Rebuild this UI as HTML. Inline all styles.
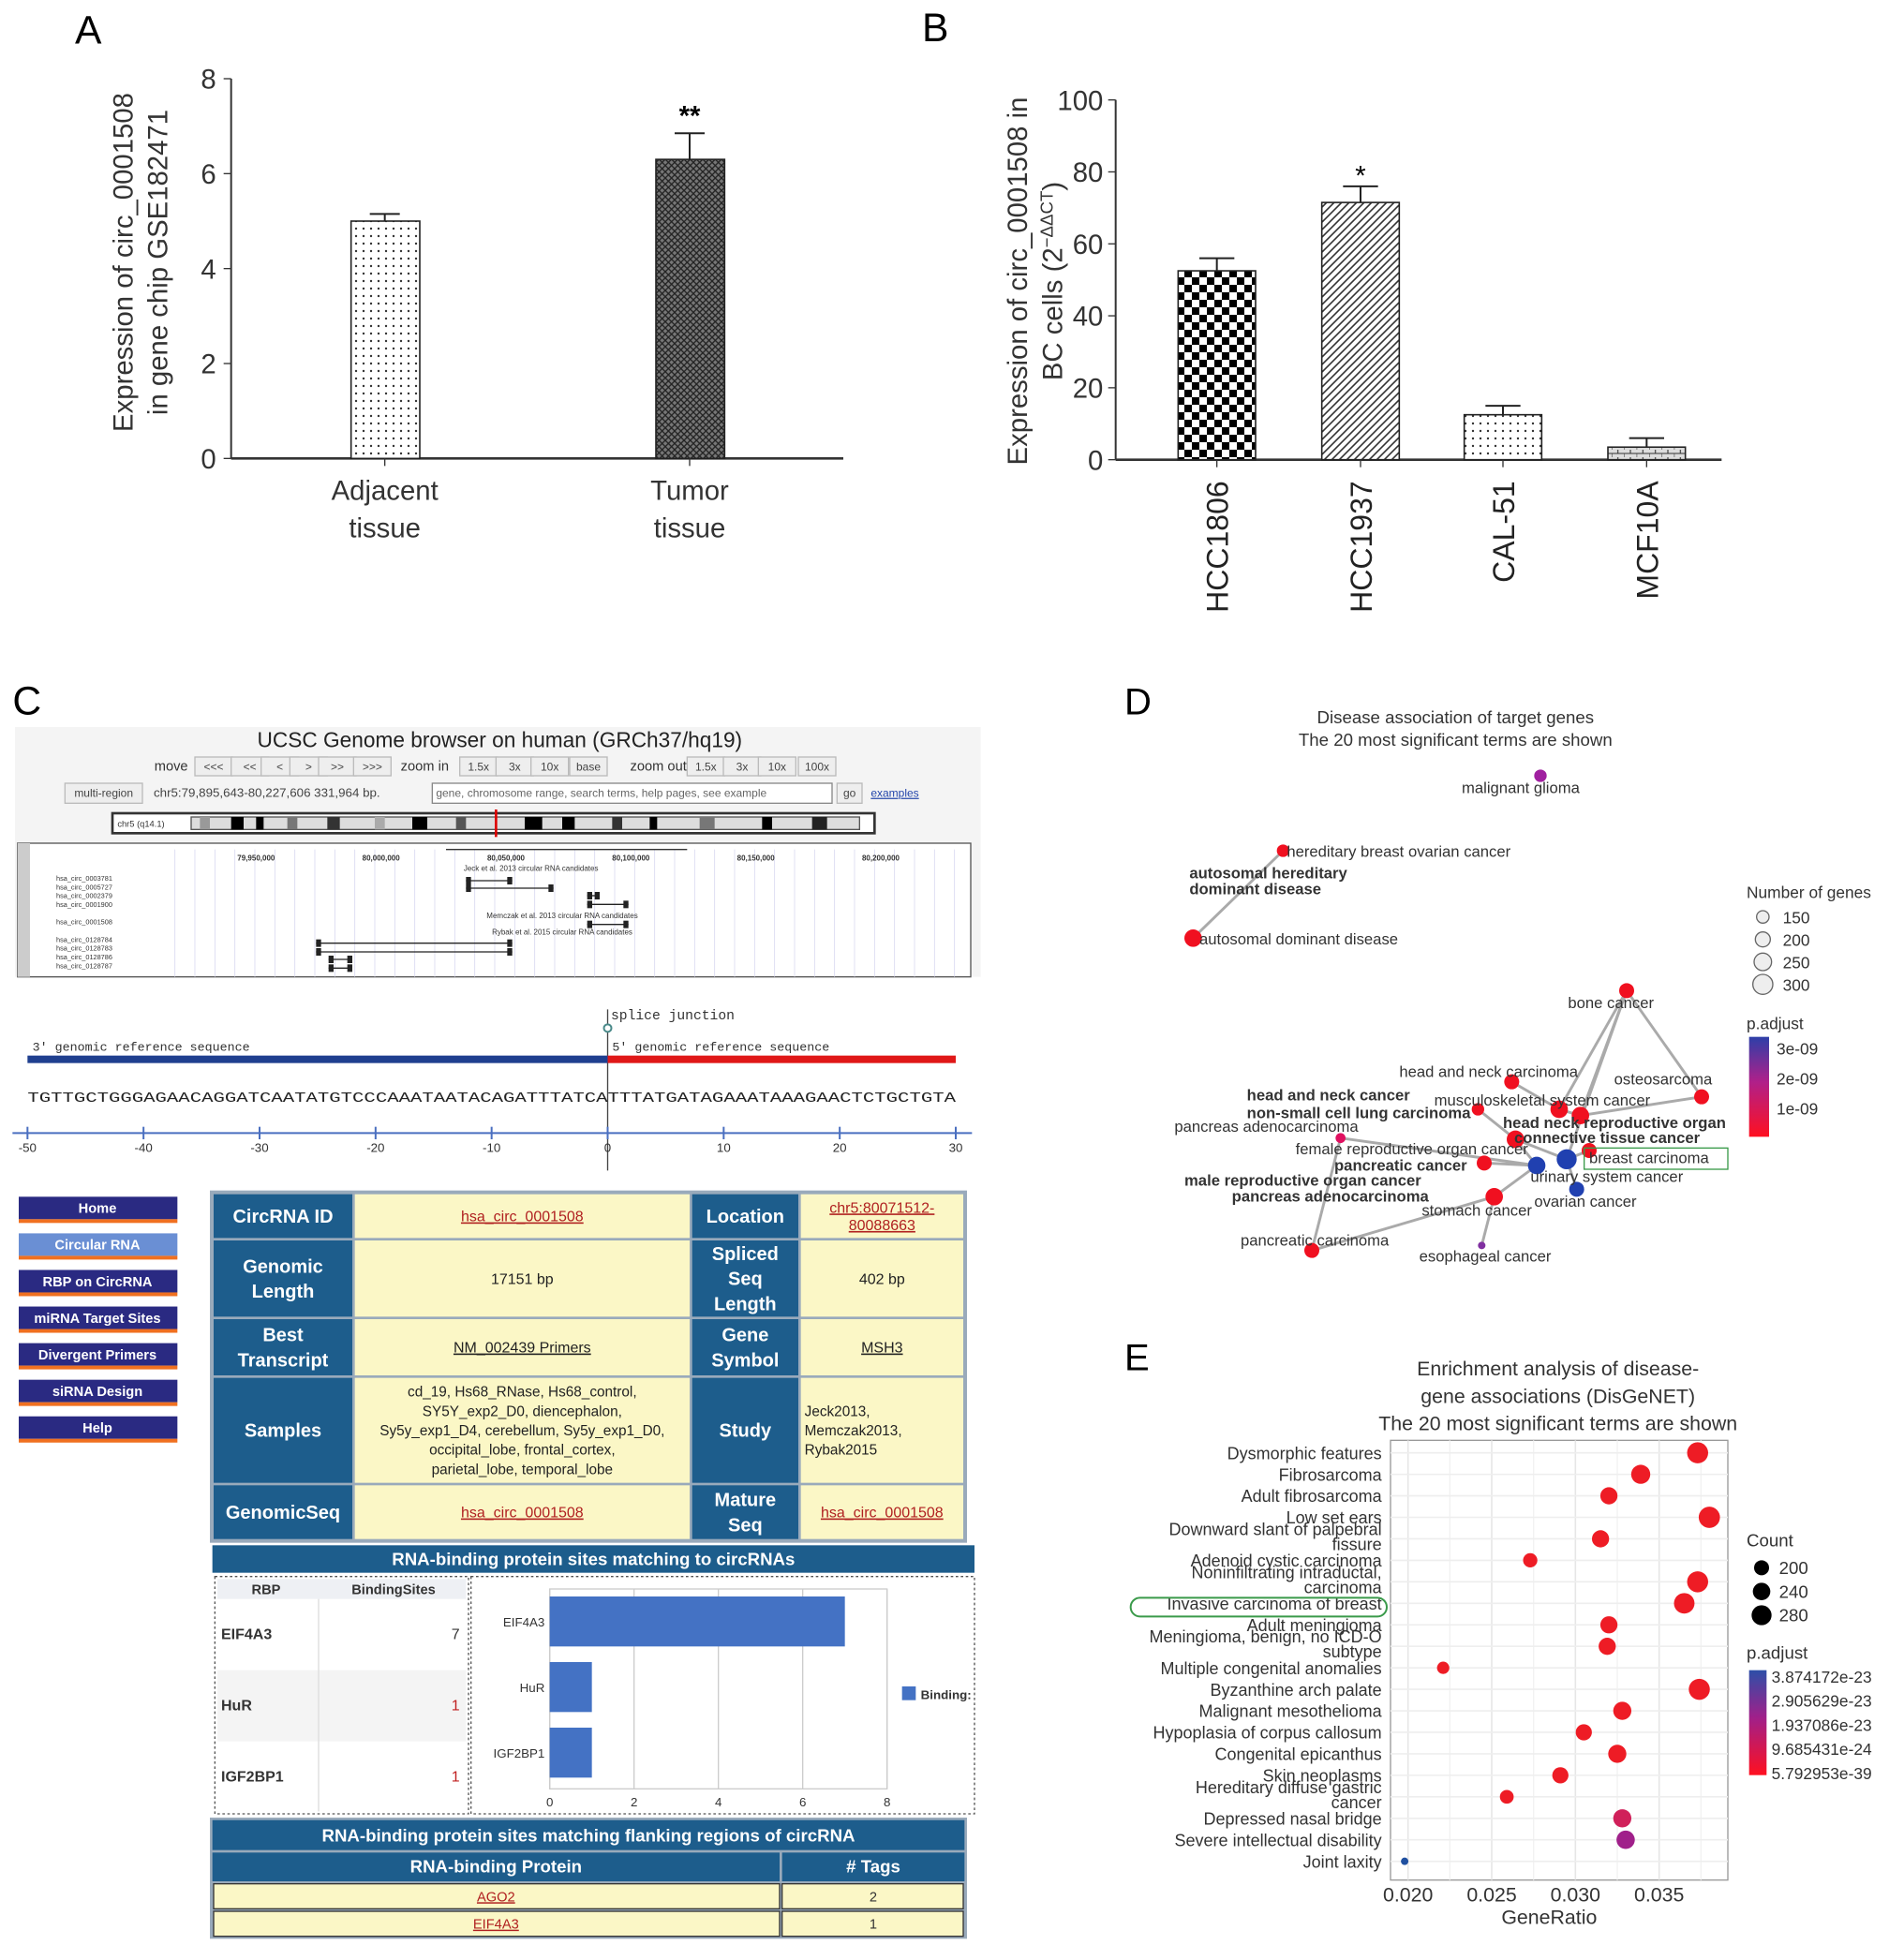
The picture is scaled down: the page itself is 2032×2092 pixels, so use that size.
<!DOCTYPE html>
<html><head><meta charset="utf-8"><style>
html,body{margin:0;padding:0;background:#fff}
svg{display:block}
text{font-family:"Liberation Sans",sans-serif}
.mono{font-family:"Liberation Mono",monospace}
</style></head><body>
<svg id="fig" xmlns="http://www.w3.org/2000/svg" width="2032" height="2092" viewBox="0 0 1524 1569">
<defs>
<pattern id="pDots" width="6" height="6" patternUnits="userSpaceOnUse"><rect width="6" height="6" fill="#fff"/><circle cx="3" cy="3" r="0.9" fill="#333"/></pattern>
<pattern id="pCross" width="5" height="5" patternUnits="userSpaceOnUse"><rect width="5" height="5" fill="#777"/><path d="M0 0L5 5M5 0L0 5" stroke="#222" stroke-width="1"/></pattern>
<pattern id="pCheck" width="12" height="12" patternUnits="userSpaceOnUse"><rect width="12" height="12" fill="#fff"/><rect width="6" height="6" fill="#000"/><rect x="6" y="6" width="6" height="6" fill="#000"/></pattern>
<pattern id="pDiag" width="6" height="6" patternUnits="userSpaceOnUse"><rect width="6" height="6" fill="#fff"/><path d="M0 6L6 0M-1 1L1 -1M5 7L7 5" stroke="#333" stroke-width="1.2"/></pattern>
<pattern id="pBrick" width="10" height="6" patternUnits="userSpaceOnUse"><rect width="10" height="6" fill="#ddd"/><path d="M0 3H10M5 0V3M0 3V6" stroke="#333" stroke-width="0.8"/></pattern>
<linearGradient id="gD" x1="0" y1="0" x2="0" y2="1"><stop offset="0" stop-color="#2d3fa8"/><stop offset="0.45" stop-color="#b0208a"/><stop offset="1" stop-color="#ff1020"/></linearGradient>
<linearGradient id="gE" x1="0" y1="0" x2="0" y2="1"><stop offset="0" stop-color="#2d4fa8"/><stop offset="0.45" stop-color="#a0208a"/><stop offset="1" stop-color="#ff1020"/></linearGradient>
</defs>
<g id="root"></g>
</svg>
<script>
// ---- Panel A data
const aCats=["Adjacent|tissue","Tumor|tissue"];
const aVals=[5.0,6.3];
const aErr=[0.15,0.55];
const aTicks=[0,2,4,6,8];
// ---- Panel B data
const bCats=["HCC1806","HCC1937","CAL-51","MCF10A"];
const bVals=[52.5,71.5,12.5,3.5];
const bErr=[3.5,4.5,2.5,2.5];
const bTicks=[0,20,40,60,80,100];
// ---- Panel C RBP chart
const rbpCats=["EIF4A3","HuR","IGF2BP1"];
const rbpVals=[7,1,1];
const rbpTicks=[0,2,4,6,8];
const splTicks=[-50,-40,-30,-20,-10,0,10,20,30];
// ---- Panel E data
const eTerms=["Dysmorphic features","Fibrosarcoma","Adult fibrosarcoma","Low set ears","Downward slant of palpebral|fissure","Adenoid cystic carcinoma","Noninfiltrating intraductal,|carcinoma","Invasive carcinoma of breast","Adult meningioma","Meningioma, benign, no ICD-O|subtype","Multiple congenital anomalies","Byzanthine arch palate","Malignant mesothelioma","Hypoplasia of corpus callosum","Congenital epicanthus","Skin neoplasms","Hereditary diffuse gastric|cancer","Depressed nasal bridge","Severe intellectual disability","Joint laxity"];
const eRatio=[0.0373,0.0339,0.0320,0.0380,0.0315,0.0273,0.0373,0.0365,0.0320,0.0319,0.0221,0.0374,0.0328,0.0305,0.0325,0.0291,0.0259,0.0328,0.0330,0.0198];
const eCount=[290,270,250,292,250,220,290,285,250,250,200,290,260,240,260,240,215,260,262,150];
const ePadj=[0.01,0.01,0.01,0.01,0.01,0.01,0.01,0.01,0.01,0.01,0.01,0.01,0.01,0.01,0.01,0.01,0.01,0.3,0.6,1.0];
const eTicks=[0.020,0.025,0.030,0.035];
// ---- Panel D network: label, x, y, r, color, labelX(start), labelY, weight
const dNodes=[
 ["malignant glioma",1233,621,5,"#a020a0",1170,635,"n"],
 ["hereditary breast ovarian cancer",1027,681,5,"#f01020",1030,686,"n"],
 ["autosomal dominant disease",955,751,7,"#f01020",960,756,"n"],
 ["bone cancer",1302,793,6,"#f01020",1255,807,"n"],
 ["osteosarcoma",1362,878,6,"#f01020",1292,868,"n"],
 ["head and neck carcinoma",1210,866,6,"#f01020",1120,862,"n"],
 ["musculoskeletal system cancer",1248,888,7,"#f01020",1148,885,"n"],
 ["head neck reproductive organ",1265,893,7,"#f01020",1203,903,"b"],
 ["pancreas adenocarcinoma",1073,911,4,"#e01060",940,906,"n"],
 ["connective tissue cancer",1213,912,7,"#f01020",1212,915,"b"],
 ["breast carcinoma",1254,928,8,"#2040b0",1272,931,"n"],
 ["",1230,933,7,"#2040b0",0,0,"n"],
 ["",1272,921,6,"#f01020",0,0,"n"],
 ["pancreatic cancer",1188,931,6,"#f01020",1068,937,"b"],
 ["stomach cancer",1196,958,7,"#f01020",1138,973,"n"],
 ["ovarian cancer",1262,952,6,"#2040b0",1228,966,"n"],
 ["pancreatic carcinoma",1050,1001,6,"#f01020",993,997,"n"],
 ["esophageal cancer",1186,997,3,"#8030a0",1136,1010,"n"],
 ["",1183,888,5,"#f01020",0,0,"n"]
];
const dEdges=[[1,2],[3,4],[3,6],[3,7],[3,10],[4,7],[8,11],[16,8],[16,14],[17,14],[5,6],[6,7],[9,10],[13,11],[14,11],[18,9],[9,11],[10,15],[12,10]];
const dExtraLabels=[["autosomal hereditary",952,703,"b"],["dominant disease",952,716,"b"],["head and neck cancer",998,881,"b"],["non-small cell lung carcinoma",998,895,"b"],["female reproductive organ cancer",1037,924,"n"],["male reproductive organ cancer",948,949,"b"],["urinary system cancer",1225,946,"n"],["pancreas adenocarcinoma",986,962,"b"]];

const NS="http://www.w3.org/2000/svg";
const root=document.getElementById('root');
function el(tag,attrs,parent,txt){const e=document.createElementNS(NS,tag);for(const k in attrs)e.setAttribute(k,attrs[k]);if(txt!==undefined)e.textContent=txt;(parent||root).appendChild(e);return e;}
function g(name){const e=el('g',{});return e;}

// ================= Panel A
(function(){
 const P=g('panel-a');
 const x0=185,x1=675,y0=367,y8=63;
 const y=v=>y0-(v/8)*(y0-y8);
 let t=el('text',{x:60,y:35,'font-size':32},P,'A');
 el('line',{x1:x0,y1:y8,x2:x0,y2:y0,stroke:'#333','stroke-width':1.5},P);
 el('line',{x1:x0,y1:y0,x2:x1,y2:y0,stroke:'#333','stroke-width':2},P);
 aTicks.forEach(v=>{el('line',{x1:x0-6,y1:y(v),x2:x0,y2:y(v),stroke:'#333'},P);const tt=el('text',{x:x0-12,y:y(v)+8,'font-size':22,'text-anchor':'end',fill:'#333'},P,String(v));});
 const cx=[308,552],fills=['url(#pDots)','url(#pCross)'];
 aVals.forEach((v,i)=>{
  const b=el('rect',{x:cx[i]-27,y:y(v),width:55,height:y0-y(v),fill:fills[i],stroke:'#222','stroke-width':1.2},P);
  
  const ye=y(v+aErr[i]);
  el('line',{x1:cx[i],y1:y(v),x2:cx[i],y2:ye,stroke:'#222','stroke-width':1.5},P);
  el('line',{x1:cx[i]-12,y1:ye,x2:cx[i]+12,y2:ye,stroke:'#222','stroke-width':1.5},P);
  el('line',{x1:cx[i],y1:y0,x2:cx[i],y2:y0+6,stroke:'#333'},P);
  aCats[i].split('|').forEach((s,k)=>{const tt=el('text',{x:cx[i],y:400+k*30,'font-size':22,'text-anchor':'middle',fill:'#333'},P,s);});
 });
 t=el('text',{x:552,y:100,'font-size':22,'text-anchor':'middle','font-weight':'bold'},P,'**');
 t=el('text',{transform:'translate(106,210) rotate(-90)','font-size':22,'text-anchor':'middle',fill:'#333'},P,'Expression of circ_0001508');
 t=el('text',{transform:'translate(134,210) rotate(-90)','font-size':22,'text-anchor':'middle',fill:'#333'},P,'in gene chip GSE182471');
})();

// ================= Panel B
(function(){
 const P=g('panel-b');
 const x0=893,x1=1378,y0=368,yT=80;
 const y=v=>y0-(v/100)*(y0-yT);
 let t=el('text',{x:738,y:33,'font-size':32},P,'B');
 el('line',{x1:x0,y1:yT,x2:x0,y2:y0,stroke:'#333','stroke-width':1.5},P);
 el('line',{x1:x0,y1:y0,x2:x1,y2:y0,stroke:'#333','stroke-width':2},P);
 bTicks.forEach(v=>{el('line',{x1:x0-6,y1:y(v),x2:x0,y2:y(v),stroke:'#333'},P);const tt=el('text',{x:x0-10,y:y(v)+8,'font-size':22,'text-anchor':'end',fill:'#333'},P,String(v));});
 const cx=[974,1089,1203,1318],fills=['url(#pCheck)','url(#pDiag)','url(#pDots)','url(#pBrick)'];
 bVals.forEach((v,i)=>{
  const b=el('rect',{x:cx[i]-31,y:y(v),width:62,height:y0-y(v),fill:fills[i],stroke:'#222','stroke-width':1.2},P);
  
  const ye=y(v+bErr[i]);
  el('line',{x1:cx[i],y1:y(v),x2:cx[i],y2:ye,stroke:'#222','stroke-width':1.5},P);
  el('line',{x1:cx[i]-14,y1:ye,x2:cx[i]+14,y2:ye,stroke:'#222','stroke-width':1.5},P);
  el('line',{x1:cx[i],y1:y0,x2:cx[i],y2:y0+6,stroke:'#333'},P);
  const tt=el('text',{transform:`translate(${cx[i]+9},385) rotate(-90)`,'font-size':24,'text-anchor':'end',fill:'#222'},P,bCats[i]);
 });
 t=el('text',{x:1089,y:148,'font-size':22,'text-anchor':'middle'},P,'*');
 t=el('text',{transform:'translate(822,225) rotate(-90)','font-size':22,'text-anchor':'middle',fill:'#333'},P,'Expression of circ_0001508 in');
 t=el('text',{transform:'translate(850,225) rotate(-90)','font-size':22,'text-anchor':'middle',fill:'#333'},P);
 el('tspan',{},t,'BC cells (2');
 el('tspan',{'baseline-shift':'super','font-size':14},t,'\u2212\u0394\u0394CT');
 el('tspan',{},t,')');
})();

// ================= Panel C
(function(){
 const P=g('panel-c');
 let t=el('text',{x:10,y:572,'font-size':32},P,'C');
 el('rect',{x:12,y:582,width:773,height:200,fill:'#f4f4f4'},P);
 t=el('text',{x:400,y:598,'font-size':17,'text-anchor':'middle',fill:'#222'},P,'UCSC Genome browser on human (GRCh37/hq19)');
 el('text',{x:137,y:617,'font-size':11,fill:'#333','text-anchor':'middle'},P,'move');
 const btns=[["<<<",171],["<<",200],["<",224],[">",247],[">>",270],[">>>",298],["1.5x",383],["3x",412],["10x",440],["base",471],["1.5x",565],["3x",594],["10x",622],["100x",654]];
 btns.forEach(b=>{const r=el('rect',{x:b[1]-15,y:606,width:30,height:15,fill:'#eee',stroke:'#bbb'},P);el('text',{x:b[1],y:617,'font-size':9,'text-anchor':'middle',fill:'#444'},P,b[0]);});
 el('text',{x:340,y:617,'font-size':11,fill:'#333','text-anchor':'middle'},P,'zoom in');
 el('text',{x:527,y:617,'font-size':11,fill:'#333','text-anchor':'middle'},P,'zoom out');
 el('rect',{x:52,y:627,width:62,height:16,fill:'#eee',stroke:'#bbb'},P);
 el('text',{x:83,y:638,'font-size':9,'text-anchor':'middle',fill:'#444'},P,'multi-region');
 el('text',{x:123,y:638,'font-size':10,fill:'#444'},P,'chr5:79,895,643-80,227,606  331,964 bp.');
 const inp=el('rect',{x:346,y:627,width:320,height:16,fill:'#fff',stroke:'#888'},P);
 el('text',{x:349,y:638,'font-size':9,fill:'#666'},P,'gene, chromosome range, search terms, help pages, see example');
 el('rect',{x:670,y:627,width:20,height:16,fill:'#eee',stroke:'#bbb'},P);
 el('text',{x:680,y:638,'font-size':9,'text-anchor':'middle',fill:'#444'},P,'go');
 el('text',{x:697,y:638,'font-size':9,fill:'#2244aa','text-decoration':'underline'},P,'examples');
 el('rect',{x:90,y:651,width:610,height:16,fill:'#fff',stroke:'#333','stroke-width':2},P);
 el('text',{x:94,y:662,'font-size':7,fill:'#333'},P,'chr5 (q14.1)');
 el('rect',{x:153,y:654,width:535,height:10,fill:'#ddd',stroke:'#555'},P);
 [[160,8,'#999'],[185,10,'#000'],[205,6,'#000'],[230,8,'#777'],[262,10,'#333'],[300,8,'#aaa'],[330,12,'#000'],[365,8,'#555'],[420,14,'#000'],[450,10,'#000'],[490,8,'#333'],[520,6,'#000'],[560,12,'#777'],[610,8,'#000'],[650,12,'#222']].forEach(s=>el('rect',{x:s[0],y:654,width:s[1],height:10,fill:s[2]},P));
 el('line',{x1:397,y1:648,x2:397,y2:670,stroke:'#d00','stroke-width':2},P);
 el('rect',{x:14,y:675,width:763,height:107,fill:'#fff',stroke:'#555'},P);
 el('rect',{x:14,y:675,width:10,height:107,fill:'#ccc'},P);
 for(let i=0;i<40;i++){el('line',{x1:140+i*16,y1:680,x2:140+i*16,y2:782,stroke:'#d8d8f0','stroke-width':0.6},P);}
 ["79,950,000","80,000,000","80,050,000","80,100,000","80,150,000","80,200,000"].forEach((s,i)=>el('text',{x:205+i*100,y:689,'font-size':6,'text-anchor':'middle',fill:'#333','font-weight':'bold'},P,s));
 el('line',{x1:357,y1:680,x2:550,y2:680,stroke:'#333'},P);
 const rl=["hsa_circ_0003781","hsa_circ_0005727","hsa_circ_0002379","hsa_circ_0001900","","hsa_circ_0001508","","hsa_circ_0128784","hsa_circ_0128783","hsa_circ_0128786","hsa_circ_0128787"];
 rl.forEach((s,i)=>{if(s)el('text',{x:45,y:705+i*7,'font-size':5.5,fill:'#333'},P,s);});
 el('text',{x:425,y:697,'font-size':6,fill:'#333','text-anchor':'middle'},P,'Jeck et al. 2013 circular RNA candidates');
 el('text',{x:450,y:735,'font-size':6,fill:'#333','text-anchor':'middle'},P,'Memczak et al. 2013 circular RNA candidates');
 el('text',{x:450,y:748,'font-size':6,fill:'#333','text-anchor':'middle'},P,'Rybak et al. 2015 circular RNA candidates');
 [[373,410,705],[373,443,711],[470,480,717],[470,503,724],[470,503,740],[253,410,755],[253,410,762],[263,282,768],[263,282,775]].forEach(l=>{el('line',{x1:l[0],y1:l[2],x2:l[1],y2:l[2],stroke:'#222'},P);el('rect',{x:l[0],y:l[2]-3,width:4,height:6,fill:'#222'},P);el('rect',{x:l[1]-4,y:l[2]-3,width:4,height:6,fill:'#222'},P);});
 const sx=v=>22+(v+50)*(765-22)/80;
 t=el('text',{x:489,y:816,'font-size':11,fill:'#333',class:'mono'},P,'splice junction');
 el('line',{x1:sx(0),y1:808,x2:sx(0),y2:937,stroke:'#444','stroke-width':1},P);
 el('circle',{cx:sx(0),cy:823,r:3,fill:'#fff',stroke:'#4a8a8a','stroke-width':1.5},P);
 el('text',{x:26,y:841,'font-size':10,fill:'#333',class:'mono'},P,"3' genomic reference sequence");
 el('text',{x:490,y:841,'font-size':10,fill:'#333',class:'mono'},P,"5' genomic reference sequence");
 let r=el('rect',{x:sx(-50),y:845,width:sx(0)-sx(-50),height:6,fill:'#1f3f8f'},P);
 r=el('rect',{x:sx(0),y:845,width:sx(30)-sx(0),height:6,fill:'#e01818'},P);
 t=el('text',{x:22,y:882,'font-size':11,fill:'#222',class:'mono',textLength:743,lengthAdjust:'spacingAndGlyphs'},P,'TGTTGCTGGGAGAACAGGATCAATATGTCCCAAATAATACAGATTTATCATTTATGATAGAAATAAAGAACTCTGCTGTA');
 el('line',{x1:10,y1:907,x2:778,y2:907,stroke:'#4a6fc0','stroke-width':1.5},P);
 splTicks.forEach(v=>{el('line',{x1:sx(v),y1:902,x2:sx(v),y2:912,stroke:'#4a6fc0','stroke-width':1.5},P);const tt=el('text',{x:sx(v),y:922,'font-size':10,'text-anchor':'middle',fill:'#333'},P,String(v));});
 ["Home","Circular RNA","RBP on CircRNA","miRNA Target Sites","Divergent Primers","siRNA Design","Help"].forEach((s,i)=>{
  const y=958+i*29.3;
  const b=el('rect',{x:15,y:y,width:127,height:18,fill:i==1?'#6a8fd4':'#2a2a82'},P);
  
  el('rect',{x:15,y:y+18,width:127,height:3,fill:'#f07020'},P);
  el('text',{x:78,y:y+13,'font-size':11,'font-weight':'bold','text-anchor':'middle',fill:'#fff'},P,s);
 });
 el('rect',{x:168,y:953,width:606,height:282,fill:'#9ab'},P);
 const cols=[[170,283],[283,553],[553,640],[640,772]];
 const rows=[[955,992],[992,1055],[1055,1102],[1102,1188],[1188,1233]];
 const cells=[
  [["CircRNA ID"],["hsa_circ_0001508","L"],["Location"],["chr5:80071512-|80088663","L"]],
  [["Genomic|Length"],["17151 bp"],["Spliced|Seq|Length"],["402 bp"]],
  [["Best|Transcript"],["NM_002439  Primers","U"],["Gene|Symbol"],["MSH3","U"]],
  [["Samples"],["cd_19, Hs68_RNase, Hs68_control,|SY5Y_exp2_D0, diencephalon,|Sy5y_exp1_D4, cerebellum, Sy5y_exp1_D0,|occipital_lobe, frontal_cortex,|parietal_lobe, temporal_lobe"],["Study"],["Jeck2013,|Memczak2013,|Rybak2015","S"]],
  [["GenomicSeq"],["hsa_circ_0001508","L"],["Mature|Seq"],["hsa_circ_0001508","L"]]];
 rows.forEach((rw,ri)=>cols.forEach((c,ci)=>{
  const hdr=ci%2==0;
  const cell=el('rect',{x:c[0]+1,y:rw[0]+1,width:c[1]-c[0]-2,height:rw[1]-rw[0]-2,fill:hdr?'#1d5d8c':'#fbf7c6'},P);
  
  const d=cells[ri][ci];const lines=d[0].split('|');const fs=hdr?15:(ri==3?11.5:12);const lh=hdr?20:(ri==3?15.5:14);
  const cy=(rw[0]+rw[1])/2-(lines.length-1)*lh/2+fs*0.35;
  lines.forEach((s,k)=>{
   const left=d[1]=='S';
   const tt=el('text',{x:left?c[0]+4:(c[0]+c[1])/2,y:cy+k*lh,'font-size':fs,'font-weight':hdr?'bold':'normal','text-anchor':left?'start':'middle',fill:hdr?'#fff':(d[1]=='L'?'#b02020':'#222'),'text-decoration':(d[1]=='L'||d[1]=='U')?'underline':'none'},P,s);
   if(d[1]=='L'||d[1]=='U'){}
  });
 }));
 el('rect',{x:170,y:1237,width:610,height:22,fill:'#1d5d8c'},P);
 el('text',{x:475,y:1253,'font-size':14,'font-weight':'bold','text-anchor':'middle',fill:'#fff'},P,'RNA-binding protein sites matching to circRNAs');
 el('rect',{x:172,y:1262,width:203,height:190,fill:'#fff',stroke:'#555','stroke-dasharray':'2,2'},P);
 el('rect',{x:174,y:1264,width:199,height:16,fill:'#eef0f4'},P);
 el('text',{x:213,y:1276,'font-size':11,'font-weight':'bold','text-anchor':'middle',fill:'#333'},P,'RBP');
 el('text',{x:315,y:1276,'font-size':11,'font-weight':'bold','text-anchor':'middle',fill:'#333'},P,'BindingSites');
 el('rect',{x:174,y:1337,width:199,height:57,fill:'#f4f4f4'},P);
 el('line',{x1:255,y1:1280,x2:255,y2:1450,stroke:'#ddd'},P);
 rbpCats.forEach((c,i)=>{const y=1312+i*57;el('text',{x:177,y:y,'font-size':12,'font-weight':'bold',fill:'#333'},P,c);const tt=el('text',{x:368,y:y,'font-size':12,'text-anchor':'end',fill:i?'#c02020':'#333'},P,String(rbpVals[i]));});
 el('rect',{x:377,y:1262,width:403,height:190,fill:'#fff',stroke:'#555','stroke-dasharray':'2,2'},P);
 const rx=v=>440+v*(710-440)/8;
 el('rect',{x:440,y:1272,width:270,height:160,fill:'#fff',stroke:'#ccc'},P);
 rbpTicks.forEach(v=>{el('line',{x1:rx(v),y1:1272,x2:rx(v),y2:1432,stroke:'#ccc'},P);const tt=el('text',{x:rx(v),y:1446,'font-size':10,'text-anchor':'middle',fill:'#333'},P,String(v));});
 rbpCats.forEach((c,i)=>{const y0=1278+i*52.5;const b=el('rect',{x:rx(0),y:y0,width:rx(rbpVals[i])-rx(0),height:40,fill:'#4472c4'},P);el('text',{x:436,y:y0+24,'font-size':10,'text-anchor':'end',fill:'#333'},P,c);});
 el('rect',{x:722,y:1350,width:11,height:11,fill:'#4472c4'},P);
 el('text',{x:737,y:1360,'font-size':10,'font-weight':'bold',fill:'#333'},P,'Binding:');
 el('rect',{x:168,y:1455,width:606,height:97,fill:'#9ab'},P);
 el('rect',{x:170,y:1457,width:602,height:24,fill:'#1d5d8c'},P);
 el('text',{x:471,y:1474,'font-size':14,'font-weight':'bold','text-anchor':'middle',fill:'#fff'},P,'RNA-binding protein sites matching flanking regions of circRNA');
 el('rect',{x:170,y:1483,width:454,height:23,fill:'#1d5d8c'},P);
 el('rect',{x:626,y:1483,width:146,height:23,fill:'#1d5d8c'},P);
 el('text',{x:397,y:1499,'font-size':14,'font-weight':'bold','text-anchor':'middle',fill:'#fff'},P,'RNA-binding Protein');
 el('text',{x:699,y:1499,'font-size':14,'font-weight':'bold','text-anchor':'middle',fill:'#fff'},P,'# Tags');
 [["AGO2","2"],["EIF4A3","1"]].forEach((rw,i)=>{const y=1508+i*22;el('rect',{x:171,y:y,width:453,height:20,fill:'#fbf7c6',stroke:'#333'},P);el('rect',{x:626,y:y,width:145,height:20,fill:'#fbf7c6',stroke:'#333'},P);const tt=el('text',{x:397,y:y+14,'font-size':11,'text-anchor':'middle',fill:'#b02020','text-decoration':'underline'},P,rw[0]);el('text',{x:699,y:y+14,'font-size':11,'text-anchor':'middle',fill:'#333'},P,rw[1]);});
})();

// ================= Panel D
(function(){
 const P=g('panel-d');
 let t=el('text',{x:900,y:572,'font-size':30},P,'D');
 el('text',{x:1165,y:579,'font-size':14,'text-anchor':'middle',fill:'#333'},P,'Disease association of target genes');
 el('text',{x:1165,y:597,'font-size':14,'text-anchor':'middle',fill:'#333'},P,'The 20 most significant terms are shown');
 dEdges.forEach(e=>{const a=dNodes[e[0]],b=dNodes[e[1]];const l=el('line',{x1:a[1],y1:a[2],x2:b[1],y2:b[2],stroke:'#aaa','stroke-width':2.2},P);});
 dNodes.forEach(n=>{const c=el('circle',{cx:n[1],cy:n[2],r:n[3],fill:n[4]},P);});
 dNodes.forEach(n=>{if(!n[0])return;const tt=el('text',{x:n[5],y:n[6],'font-size':12.5,'font-weight':n[7]=='b'?'bold':'normal',fill:'#333'},P,n[0]);});
 dExtraLabels.forEach(n=>{const tt=el('text',{x:n[1],y:n[2],'font-size':12.5,'font-weight':n[3]=='b'?'bold':'normal',fill:'#333'},P,n[0]);});
 const bx=el('rect',{x:1268,y:919,width:115,height:17,fill:'none',stroke:'#3a9a4a','stroke-width':1},P);
 el('text',{x:1398,y:719,'font-size':13,fill:'#333'},P,'Number of genes');
 [[150,5],[200,6],[250,7],[300,8]].forEach((s,i)=>{const y=734+i*18;el('circle',{cx:1411,cy:y,r:s[1],fill:'#eee',stroke:'#666'},P);el('text',{x:1427,y:y+5,'font-size':13,fill:'#333'},P,String(s[0]));});
 el('text',{x:1398,y:824,'font-size':13,fill:'#333'},P,'p.adjust');
 el('rect',{x:1400,y:830,width:16,height:80,fill:'url(#gD)'},P);
 [['3e-09',844],['2e-09',868],['1e-09',892]].forEach(s=>el('text',{x:1422,y:s[1],'font-size':13,fill:'#333'},P,s[0]));
})();

// ================= Panel E
(function(){
 const P=g('panel-e');
 let t=el('text',{x:900,y:1097,'font-size':30},P,'E');
 ['Enrichment analysis of disease-','gene associations (DisGeNET)','The 20 most significant terms are shown'].forEach((s,i)=>el('text',{x:1247,y:1101+i*22,'font-size':16,'text-anchor':'middle',fill:'#333'},P,s));
 const L=1113,R=1383,T=1153,B=1505;
 const x=v=>1127+(v-0.020)*(1328-1127)/0.015;
 const y=i=>1163+i*(1490-1163)/19;
 el('rect',{x:L,y:T,width:R-L,height:B-T,fill:'#fff',stroke:'#999'},P);
 eTicks.forEach((v,i)=>{el('line',{x1:x(v),y1:T,x2:x(v),y2:B,stroke:'#e6e6e6','stroke-width':1.2},P);el('line',{x1:x(v+0.0025),y1:T,x2:x(v+0.0025),y2:B,stroke:'#f2f2f2'},P);const tt=el('text',{x:x(v),y:1522,'font-size':16,'text-anchor':'middle',fill:'#333'},P,v.toFixed(3));});
 eTerms.forEach((s,i)=>{el('line',{x1:L,y1:y(i),x2:R,y2:y(i),stroke:'#eee','stroke-width':1.2},P);
  const parts=s.split('|');
  parts.forEach((p,k)=>{const yy=parts.length>1?y(i)+k*12-3:y(i)+5;const tt=el('text',{x:1106,y:yy,'font-size':13.5,'text-anchor':'end',fill:'#333'},P,p);});
 });
 function pcol(p){if(p<0.1)return '#ee1c25';if(p<0.45)return '#d0205a';if(p<0.8)return '#a0208a';return '#2050a0';}
 eRatio.forEach((v,i)=>{const r=3+(eCount[i]-150)/(292-150)*5.5;const c=el('circle',{cx:x(v),cy:y(i),r:r,fill:pcol(ePadj[i])},P);});
 const hl=el('rect',{x:905,y:1279,width:205,height:15,rx:7.5,fill:'none',stroke:'#3a9a4a','stroke-width':1.5},P);
 const at=el('text',{x:1240,y:1540,'font-size':16,'text-anchor':'middle',fill:'#333'},P,'GeneRatio');
 el('text',{x:1398,y:1238,'font-size':14,fill:'#333'},P,'Count');
 [[200,6],[240,7],[280,8]].forEach((s,i)=>{const yy=1255+i*19;el('circle',{cx:1410,cy:yy,r:s[1],fill:'#000'},P);el('text',{x:1424,y:yy+5,'font-size':14,fill:'#333'},P,String(s[0]));});
 el('text',{x:1398,y:1328,'font-size':14,fill:'#333'},P,'p.adjust');
 el('rect',{x:1400,y:1337,width:14,height:84,fill:'url(#gE)'},P);
 ['3.874172e-23','2.905629e-23','1.937086e-23','9.685431e-24','5.792953e-39'].forEach((s,i)=>el('text',{x:1418,y:1347+i*19.3,'font-size':13,fill:'#333'},P,s));
})();
</script>
</body></html>
